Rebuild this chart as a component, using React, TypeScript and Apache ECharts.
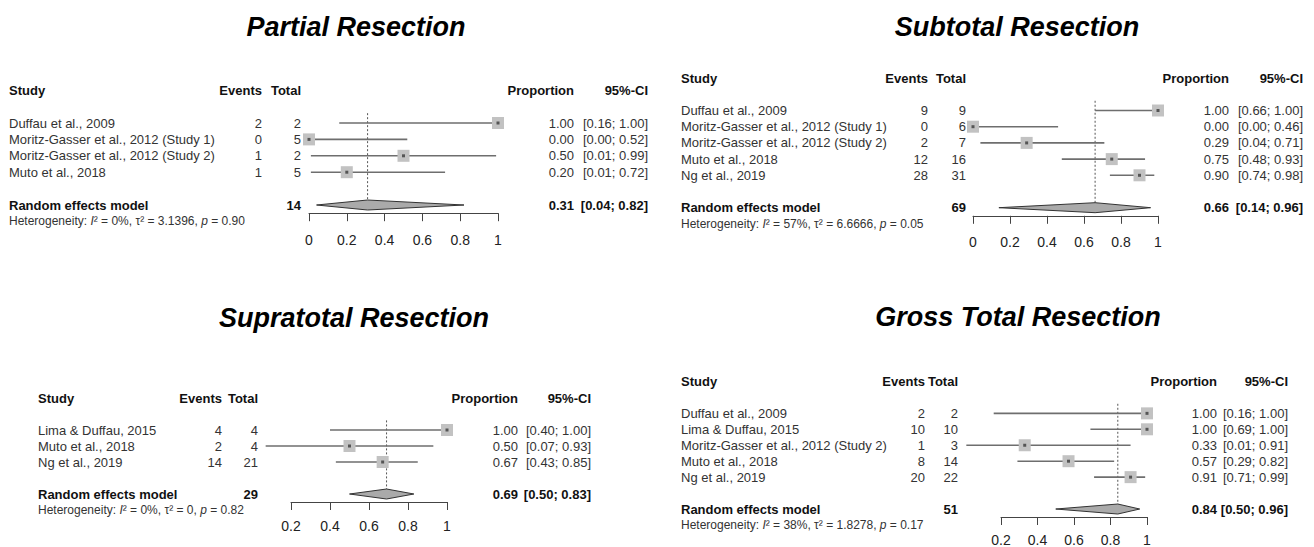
import { useEffect, useRef } from "react";
import * as echarts from "echarts";

// ---------- DATA ----------
const partialStudies = [
  "Duffau et al., 2009",
  "Moritz-Gasser et al., 2012 (Study 1)",
  "Moritz-Gasser et al., 2012 (Study 2)",
  "Muto et al., 2018",
];
const partialEvents = [2, 0, 1, 1];
const partialTotals = [2, 5, 2, 5];
const partialProp = [1.0, 0.0, 0.5, 0.2];
const partialLower = [0.16, 0.0, 0.01, 0.01];
const partialUpper = [1.0, 0.52, 0.99, 0.72];
const partialPooled = [0.31, 0.04, 0.82];
const partialPooledTotal = 14;
const partialHet = ["0%", "3.1396", "0.90"];

const subtotalStudies = [
  "Duffau et al., 2009",
  "Moritz-Gasser et al., 2012 (Study 1)",
  "Moritz-Gasser et al., 2012 (Study 2)",
  "Muto et al., 2018",
  "Ng et al., 2019",
];
const subtotalEvents = [9, 0, 2, 12, 28];
const subtotalTotals = [9, 6, 7, 16, 31];
const subtotalProp = [1.0, 0.0, 0.29, 0.75, 0.9];
const subtotalLower = [0.66, 0.0, 0.04, 0.48, 0.74];
const subtotalUpper = [1.0, 0.46, 0.71, 0.93, 0.98];
const subtotalPooled = [0.66, 0.14, 0.96];
const subtotalPooledTotal = 69;
const subtotalHet = ["57%", "6.6666", "0.05"];

const supraStudies = ["Lima & Duffau, 2015", "Muto et al., 2018", "Ng et al., 2019"];
const supraEvents = [4, 2, 14];
const supraTotals = [4, 4, 21];
const supraProp = [1.0, 0.5, 0.67];
const supraLower = [0.4, 0.07, 0.43];
const supraUpper = [1.0, 0.93, 0.85];
const supraPooled = [0.69, 0.5, 0.83];
const supraPooledTotal = 29;
const supraHet = ["0%", "0", "0.82"];

const grossStudies = [
  "Duffau et al., 2009",
  "Lima & Duffau, 2015",
  "Moritz-Gasser et al., 2012 (Study 2)",
  "Muto et al., 2018",
  "Ng et al., 2019",
];
const grossEvents = [2, 10, 1, 8, 20];
const grossTotals = [2, 10, 3, 14, 22];
const grossProp = [1.0, 1.0, 0.33, 0.57, 0.91];
const grossLower = [0.16, 0.69, 0.01, 0.29, 0.71];
const grossUpper = [1.0, 1.0, 0.91, 0.82, 0.99];
const grossPooled = [0.84, 0.5, 0.96];
const grossPooledTotal = 51;
const grossHet = ["38%", "1.8278", "0.17"];

const headerLabels = ["Study", "Events", "Total", "Proportion", "95%-CI"];
const pooledLabel = "Random effects model";

// ---------- LAYOUT ----------
const FONT = '"Liberation Sans", Arial, Helvetica, sans-serif';

type Layout = {
  titleX: number;
  titleY: number;
  row0: number;
  sp: number;
  axisLeft: number;
  axisWidth: number;
  xMin: number;
  studyX: number;
  eventsR: number;
  totalR: number;
  propR: number;
  ciR: number;
  labelMargin: number;
};

const panels = [
  {
    title: "Partial Resection",
    studies: partialStudies, events: partialEvents, totals: partialTotals,
    prop: partialProp, lower: partialLower, upper: partialUpper,
    pooled: partialPooled, pooledTotal: partialPooledTotal, het: partialHet,
    layout: { titleX: 356, titleY: 27, row0: 123, sp: 16.4, axisLeft: 309, axisWidth: 189, xMin: 0,
      studyX: 9, eventsR: 262, totalR: 301, propR: 574, ciR: 648, labelMargin: 20 } as Layout,
  },
  {
    title: "Subtotal Resection",
    studies: subtotalStudies, events: subtotalEvents, totals: subtotalTotals,
    prop: subtotalProp, lower: subtotalLower, upper: subtotalUpper,
    pooled: subtotalPooled, pooledTotal: subtotalPooledTotal, het: subtotalHet,
    layout: { titleX: 1017, titleY: 27, row0: 110.5, sp: 16.2, axisLeft: 973, axisWidth: 185, xMin: 0,
      studyX: 681, eventsR: 928, totalR: 966, propR: 1229, ciR: 1303, labelMargin: 19 } as Layout,
  },
  {
    title: "Supratotal Resection",
    studies: supraStudies, events: supraEvents, totals: supraTotals,
    prop: supraProp, lower: supraLower, upper: supraUpper,
    pooled: supraPooled, pooledTotal: supraPooledTotal, het: supraHet,
    layout: { titleX: 354, titleY: 318, row0: 430, sp: 16, axisLeft: 291, axisWidth: 156, xMin: 0.2,
      studyX: 38, eventsR: 222, totalR: 258, propR: 518, ciR: 591, labelMargin: 17 } as Layout,
  },
  {
    title: "Gross Total Resection",
    studies: grossStudies, events: grossEvents, totals: grossTotals,
    prop: grossProp, lower: grossLower, upper: grossUpper,
    pooled: grossPooled, pooledTotal: grossPooledTotal, het: grossHet,
    layout: { titleX: 1018, titleY: 317, row0: 414, sp: 16.2, axisLeft: 1001, axisWidth: 146, xMin: 0.2,
      studyX: 681, eventsR: 925, totalR: 958, propR: 1217, ciR: 1288, labelMargin: 16 } as Layout,
  },
];

const Y_MIN = -2.5;

type Cell = { x: number; text: string; align: string; bold?: boolean; rich?: boolean };

function ci(lo: number, hi: number) {
  return `[${lo.toFixed(2)}; ${hi.toFixed(2)}]`;
}

function buildOption() {
  const grid: any[] = [];
  const xAxis: any[] = [];
  const yAxis: any[] = [];
  const series: any[] = [];

  panels.forEach((p, gi) => {
    const L = p.layout;
    const n = p.studies.length;
    const yMax = n + 1.5;
    grid.push({
      left: L.axisLeft,
      width: L.axisWidth,
      top: L.row0 + Y_MIN * L.sp,
      height: (yMax - Y_MIN) * L.sp,
      containLabel: false,
    });
    xAxis.push({
      type: "value",
      gridIndex: gi,
      position: "bottom",
      min: L.xMin,
      max: 1,
      interval: 0.2,
      axisLine: { show: true, onZero: false, lineStyle: { color: "#444", width: 1 } },
      axisTick: { show: true, inside: false, length: 8, lineStyle: { color: "#444", width: 1 } },
      axisLabel: { show: true, margin: L.labelMargin, fontSize: 14, color: "#222", fontFamily: FONT },
      splitLine: { show: false },
    });
    yAxis.push({ type: "value", gridIndex: gi, inverse: true, min: Y_MIN, max: yMax, show: false });

    // reference (dotted) line at pooled estimate
    series.push({
      type: "custom",
      xAxisIndex: gi,
      yAxisIndex: gi,
      clip: false,
      silent: true,
      encode: { x: 0, y: [1, 2] },
      data: [[p.pooled[0], -0.6, n + 1]],
      renderItem: (_params: any, api: any) => {
        const a = api.coord([api.value(0), api.value(1)]);
        const b = api.coord([api.value(0), api.value(2)]);
        return {
          type: "line",
          shape: { x1: a[0], y1: a[1], x2: b[0], y2: b[1] },
          style: { stroke: "#555", lineWidth: 1, lineDash: [2, 2] },
        };
      },
    });

    // study CIs and squares
    series.push({
      type: "custom",
      xAxisIndex: gi,
      yAxisIndex: gi,
      clip: false,
      silent: true,
      encode: { x: [0, 2, 3], y: 1 },
      data: p.prop.map((v, i) => [v, i, p.lower[i], p.upper[i]]),
      renderItem: (_params: any, api: any) => {
        const row = api.value(1);
        const c = api.coord([api.value(0), row]);
        const lo = api.coord([api.value(2), row]);
        const hi = api.coord([api.value(3), row]);
        const s = 12;
        return {
          type: "group",
          children: [
            {
              type: "line",
              shape: { x1: lo[0], y1: lo[1], x2: hi[0], y2: hi[1] },
              style: { stroke: "#6e6e6e", lineWidth: 1.6 },
            },
            {
              type: "rect",
              shape: { x: c[0] - s / 2, y: c[1] - s / 2, width: s, height: s },
              style: { fill: "#c2c2c2" },
            },
            {
              type: "rect",
              shape: { x: c[0] - 1.5, y: c[1] - 1.5, width: 3, height: 3 },
              style: { fill: "#555" },
            },
          ],
        };
      },
    });

    // pooled diamond
    series.push({
      type: "custom",
      xAxisIndex: gi,
      yAxisIndex: gi,
      clip: false,
      silent: true,
      encode: { x: [0, 2, 3], y: 1 },
      data: [[p.pooled[0], n + 1, p.pooled[1], p.pooled[2]]],
      renderItem: (_params: any, api: any) => {
        const row = api.value(1);
        const c = api.coord([api.value(0), row]);
        const lo = api.coord([api.value(2), row]);
        const hi = api.coord([api.value(3), row]);
        const h = 5;
        return {
          type: "polygon",
          shape: {
            points: [
              [lo[0], lo[1]],
              [c[0], c[1] - h],
              [hi[0], hi[1]],
              [c[0], c[1] + h],
            ],
          },
          style: { fill: "#aaaaaa", stroke: "#333", lineWidth: 1 },
        };
      },
    });

    // table text rows
    const rows: { y: number; cells: Cell[] }[] = [];
    rows.push({
      y: -2,
      cells: [
        { x: L.studyX, text: headerLabels[0], align: "left", bold: true },
        { x: L.eventsR, text: headerLabels[1], align: "right", bold: true },
        { x: L.totalR, text: headerLabels[2], align: "right", bold: true },
        { x: L.propR, text: headerLabels[3], align: "right", bold: true },
        { x: L.ciR, text: headerLabels[4], align: "right", bold: true },
      ],
    });
    p.studies.forEach((s, i) => {
      rows.push({
        y: i,
        cells: [
          { x: L.studyX, text: s, align: "left" },
          { x: L.eventsR, text: String(p.events[i]), align: "right" },
          { x: L.totalR, text: String(p.totals[i]), align: "right" },
          { x: L.propR, text: p.prop[i].toFixed(2), align: "right" },
          { x: L.ciR, text: ci(p.lower[i], p.upper[i]), align: "right" },
        ],
      });
    });
    rows.push({
      y: n + 1,
      cells: [
        { x: L.studyX, text: pooledLabel, align: "left", bold: true },
        { x: L.totalR, text: String(p.pooledTotal), align: "right", bold: true },
        { x: L.propR, text: p.pooled[0].toFixed(2), align: "right", bold: true },
        { x: L.ciR, text: ci(p.pooled[1], p.pooled[2]), align: "right", bold: true },
      ],
    });
    rows.push({
      y: n + 2,
      cells: [
        {
          x: L.studyX,
          text: `{n|Heterogeneity: }{i|I}{n|² = ${p.het[0]}, τ² = ${p.het[1]}, }{i|p}{n| = ${p.het[2]}}`,
          align: "left",
          rich: true,
        },
      ],
    });

    series.push({
      type: "custom",
      xAxisIndex: gi,
      yAxisIndex: gi,
      clip: false,
      silent: true,
      encode: { x: 0, y: 1 },
      data: rows.map((r) => [L.xMin, r.y]),
      renderItem: (params: any, api: any) => {
        const r = rows[params.dataIndex];
        const y = api.coord([L.xMin, api.value(1)])[1];
        return {
          type: "group",
          children: r.cells.map((c) => {
            if (c.rich) {
              return {
                type: "text",
                x: c.x,
                y: y,
                style: {
                  text: c.text,
                  align: "left",
                  textAlign: "left",
                  verticalAlign: "middle",
                  textVerticalAlign: "middle",
                  fontFamily: FONT,
                  fontSize: 12,
                  fill: "#333",
                  rich: {
                    n: { fontFamily: FONT, fontSize: 12, fill: "#333" },
                    i: { fontFamily: FONT, fontSize: 12, fill: "#333", fontStyle: "italic" },
                  },
                },
              };
            }
            return {
              type: "text",
              x: c.x,
              y: y,
              style: {
                text: c.text,
                align: c.align,
                textAlign: c.align,
                verticalAlign: "middle",
                textVerticalAlign: "middle",
                fontFamily: FONT,
                fontSize: 13,
                fontWeight: c.bold ? "bold" : "normal",
                fill: c.bold ? "#111" : "#333",
              },
            };
          }),
        };
      },
    });
  });

  const graphic = panels.map((p) => ({
    type: "text",
    x: p.layout.titleX,
    y: p.layout.titleY,
    silent: true,
    style: {
      text: p.title,
      align: "center",
      textAlign: "center",
      verticalAlign: "middle",
      textVerticalAlign: "middle",
      fontFamily: FONT,
      fontSize: 27,
      fontWeight: "bold",
      fontStyle: "italic",
      fill: "#000",
    },
  }));

  return {
    animation: false,
    backgroundColor: "#ffffff",
    grid,
    xAxis,
    yAxis,
    series,
    graphic,
  };
}

export default function App() {
  const ref = useRef<HTMLDivElement>(null);
  useEffect(() => {
    if (!ref.current) return;
    const chart = echarts.init(ref.current, null, { renderer: "svg" });
    chart.setOption(buildOption() as any);
    return () => chart.dispose();
  }, []);
  return (
    <div
      ref={ref}
      style={{ position: "fixed", left: 0, top: 0, width: 1314, height: 547, background: "#fff" }}
    />
  );
}
